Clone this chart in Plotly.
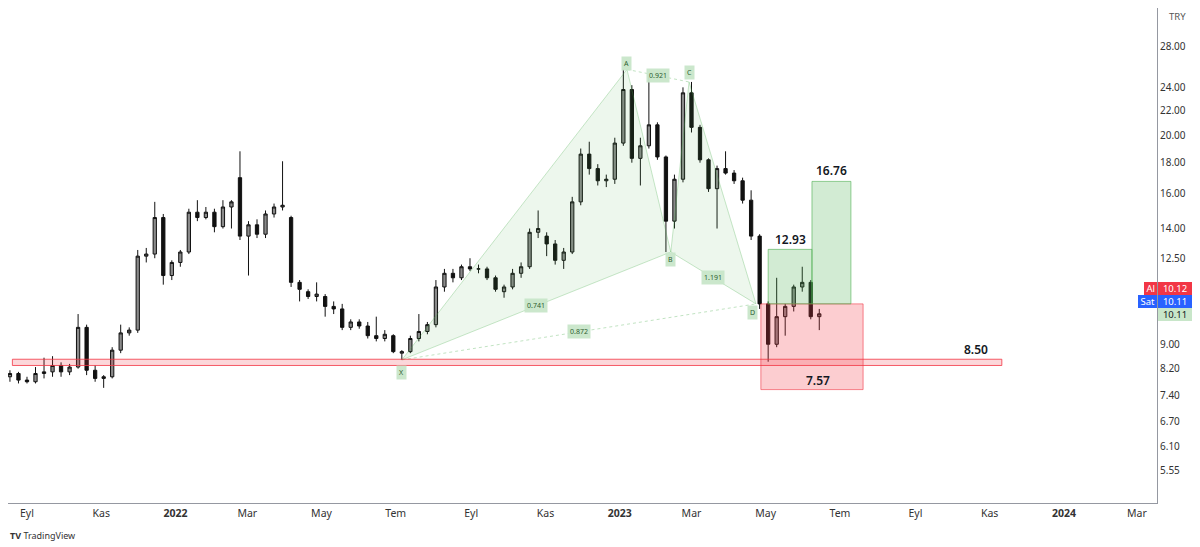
import numpy as np
import pandas as pd
import plotly.graph_objects as go

# weekly candles (TRY)
first_week = "2021-08-18"
opens = [7.95, 8.05, 7.85, 7.80, 8.05, 8.10, 8.30, 8.10, 8.25, 9.60,
         8.15, 7.90, 7.95, 8.80, 9.40, 9.50, 12.6, 12.7, 14.6, 11.7,
         12.3, 12.8, 14.9, 14.6, 14.9, 14.1, 15.2, 17.0, 13.6, 14.2,
         13.7, 14.8, 15.2, 14.6, 11.4, 11.0, 10.8, 10.8, 10.4, 10.3,
         9.60, 9.80, 9.65, 9.30, 9.20, 9.30, 8.70, 8.75, 9.20, 9.45,
         9.70, 11.2, 11.8, 11.6, 12.1, 12.0, 12.0, 11.6, 11.0, 11.2,
         11.8, 12.1, 13.8, 13.6, 13.2, 12.4, 12.8, 15.5, 18.6, 17.6,
         16.8, 16.9, 19.4, 23.8, 18.3, 19.2, 20.8, 18.4, 14.4, 16.9,
         23.5, 20.6, 18.2, 16.3, 17.6, 17.3, 16.8, 15.6, 13.6, 10.5,
         9.00, 10.0, 10.4, 11.2, 11.4, 10.0]
highs = [8.15, 8.10, 7.95, 8.25, 8.55, 8.60, 8.40, 8.35, 10.1, 9.70,
         8.30, 8.00, 8.90, 9.70, 9.60, 12.9, 13.0, 15.5, 14.8, 12.4,
         12.9, 15.1, 15.6, 15.2, 15.1, 15.6, 15.6, 18.8, 14.4, 14.5,
         15.0, 15.4, 18.1, 14.7, 11.5, 11.1, 11.4, 10.9, 10.6, 10.5,
         9.90, 9.90, 9.80, 10.0, 9.50, 9.35, 8.80, 9.30, 10.1, 9.80,
         11.5, 12.0, 12.0, 12.2, 12.5, 12.2, 12.1, 11.7, 11.3, 12.0,
         12.3, 14.0, 15.0, 13.8, 13.4, 13.0, 15.8, 19.0, 19.5, 17.9,
         17.2, 19.8, 25.7, 24.2, 19.8, 25.0, 21.0, 18.5, 17.2, 24.0,
         24.5, 20.8, 18.3, 17.8, 18.8, 17.5, 17.0, 16.2, 13.7, 10.6,
         11.6, 10.5, 11.3, 12.1, 11.5, 10.3]
lows = [7.80, 7.75, 7.75, 7.75, 7.90, 7.95, 7.95, 8.00, 8.20, 8.00,
        7.80, 7.62, 7.90, 8.70, 9.30, 9.40, 12.3, 12.5, 11.3, 11.5,
        12.1, 12.7, 14.4, 14.5, 13.8, 14.0, 14.0, 13.4, 11.7, 13.5,
        13.5, 14.6, 15.0, 11.2, 10.6, 10.7, 10.6, 10.0, 10.1, 9.50,
        9.50, 9.55, 9.20, 9.10, 9.10, 8.70, 8.48, 8.70, 9.10, 9.35,
        9.60, 11.0, 11.4, 11.5, 11.9, 11.8, 11.5, 11.0, 10.75, 11.1,
        11.6, 12.0, 13.5, 12.6, 12.2, 12.0, 12.7, 15.3, 17.2, 16.5,
        16.4, 16.6, 19.2, 18.0, 16.5, 19.0, 18.2, 12.8, 14.0, 16.7,
        20.2, 18.0, 16.1, 14.0, 17.2, 16.6, 15.4, 13.4, 10.3, 8.42,
        8.90, 9.30, 10.2, 11.0, 9.90, 9.50]
closes = [8.05, 7.85, 7.80, 8.05, 8.10, 8.30, 8.10, 8.25, 9.60, 8.15,
          7.90, 7.95, 8.80, 9.40, 9.50, 12.6, 12.7, 14.6, 11.7, 12.3,
          12.8, 14.9, 14.6, 14.9, 14.1, 15.2, 15.5, 13.6, 14.2, 13.7,
          14.8, 15.2, 15.3, 11.4, 11.1, 10.8, 10.9, 10.4, 10.3, 9.60,
          9.80, 9.65, 9.30, 9.20, 9.35, 8.75, 8.75, 9.20, 9.45, 9.70,
          11.2, 11.8, 11.6, 12.1, 12.0, 12.0, 11.6, 11.1, 11.2, 11.8,
          12.1, 13.8, 14.0, 13.2, 12.4, 12.8, 15.5, 18.6, 17.6, 16.8,
          16.9, 19.4, 23.8, 18.3, 19.2, 20.8, 18.4, 14.4, 16.9, 23.5,
          20.6, 18.2, 16.3, 17.6, 17.3, 16.8, 15.6, 13.6, 10.5, 9.00,
          10.0, 10.4, 11.2, 11.4, 10.0, 10.11]

# harmonic pattern
pattern_names = ["X", "A", "B", "C", "D"]
pattern_dates = ["2022-07-06", "2023-01-07", "2023-02-12", "2023-02-27", "2023-04-23"]
pattern_prices = [8.48, 25.7, 12.8, 24.5, 10.5]
ratio_pairs = [("X", "B"), ("X", "D"), ("A", "C"), ("B", "D")]
ratio_labels = ["0.741", "0.872", "0.921", "1.191"]

# position tool
entry_price = 10.5
target1, target2, stop = 12.93, 16.76, 7.57
stop_dates = ["2023-04-27", "2023-07-20"]
target1_dates = ["2023-05-03", "2023-06-08"]
target2_dates = ["2023-06-08", "2023-07-10"]

# support zone
zone_dates = ["2021-08-20", "2023-11-11"]
zone_low, zone_high = 8.30, 8.50
zone_label_date = "2023-10-21"

last_price, ask_price, bid_price = 10.11, 10.12, 10.11

y_ticks = [5.55, 6.10, 6.70, 7.40, 8.20, 9.00, 12.50, 14.00, 16.00, 18.00, 20.00, 22.00, 24.00, 28.00]
x_ticks = ["2021-09-01", "2021-11-01", "2022-01-01", "2022-03-01", "2022-05-01", "2022-07-01",
           "2022-09-01", "2022-11-01", "2023-01-01", "2023-03-01", "2023-05-01", "2023-07-01",
           "2023-09-01", "2023-11-01", "2024-01-01", "2024-03-01"]
x_labels = ["Eyl", "Kas", "<b>2022</b>", "Mar", "May", "Tem", "Eyl", "Kas", "<b>2023</b>", "Mar",
            "May", "Tem", "Eyl", "Kas", "<b>2024</b>", "Mar"]

FONT = "Noto Sans"
RED = "#f23645"
BLUE = "#2962ff"

dates = pd.date_range(first_week, periods=len(closes), freq="7D")
pts = {n: (pd.Timestamp(d), p) for n, d, p in zip(pattern_names, pattern_dates, pattern_prices)}

fig = go.Figure()


def rect(d0, d1, p0, p1, fill, line):
    fig.add_trace(go.Scatter(
        x=[d0, d1, d1, d0, d0], y=[p0, p0, p1, p1, p0], mode="lines", fill="toself",
        fillcolor=fill, line=dict(color=line, width=1), hoverinfo="skip", showlegend=False))


# pattern triangles
for tri in (["X", "A", "B", "X"], ["B", "C", "D", "B"]):
    fig.add_trace(go.Scatter(
        x=[pts[n][0] for n in tri], y=[pts[n][1] for n in tri], mode="lines", fill="toself",
        fillcolor="rgba(76, 175, 80, 0.10)", line=dict(color="rgba(76, 175, 80, 0.30)", width=1),
        hoverinfo="skip", showlegend=False))
for a, b in [("A", "C"), ("X", "D")]:
    fig.add_trace(go.Scatter(
        x=[pts[a][0], pts[b][0]], y=[pts[a][1], pts[b][1]], mode="lines",
        line=dict(color="rgba(76, 175, 80, 0.35)", width=1, dash="dot"),
        hoverinfo="skip", showlegend=False))

# zones
rect(zone_dates[0], zone_dates[1], zone_low, zone_high, "rgba(242, 54, 69, 0.20)", "rgba(242, 54, 69, 0.8)")
rect(stop_dates[0], stop_dates[1], stop, entry_price, "rgba(242, 54, 69, 0.25)", "rgba(242, 54, 69, 0.6)")
rect(target1_dates[0], target1_dates[1], entry_price, target1, "rgba(76, 175, 80, 0.25)", "rgba(76, 175, 80, 0.6)")
rect(target2_dates[0], target2_dates[1], entry_price, target2, "rgba(76, 175, 80, 0.25)", "rgba(76, 175, 80, 0.6)")

fig.add_trace(go.Candlestick(
    x=dates, open=opens, high=highs, low=lows, close=closes,
    increasing=dict(line=dict(color="#111111", width=1), fillcolor="#8a8a8a"),
    decreasing=dict(line=dict(color="#111111", width=1), fillcolor="#111111"),
    whiskerwidth=0, showlegend=False, hoverinfo="skip"))

annotations = []
lbl_box = dict(bgcolor="rgba(200, 230, 201, 0.95)", borderpad=2, font=dict(family=FONT, size=7, color="#2e5e30"))
offsets = {"X": (0, -13), "A": (0, 6), "B": (0, -7), "C": (0, 9), "D": (-3, -9)}
for n in pattern_names:
    d, p = pts[n]
    annotations.append(dict(x=d, y=np.log10(p), text=n, showarrow=False,
                            xshift=offsets[n][0], yshift=offsets[n][1], **lbl_box))
for (a, b), t in zip(ratio_pairs, ratio_labels):
    (da, pa), (db, pb) = pts[a], pts[b]
    annotations.append(dict(x=da + (db - da) / 2, y=(np.log10(pa) + np.log10(pb)) / 2, text=t,
                            showarrow=False, **lbl_box))

big = dict(family=FONT, size=12, color="#131722", weight=600)
mid = lambda d: pd.Timestamp(d[0]) + (pd.Timestamp(d[1]) - pd.Timestamp(d[0])) / 2
annotations += [
    dict(x=mid(target1_dates), y=np.log10(target1), text="12.93", showarrow=False, yshift=10, font=big),
    dict(x=mid(target2_dates), y=np.log10(target2), text="16.76", showarrow=False, yshift=11, font=big),
    dict(x=mid(stop_dates) + pd.Timedelta(days=5), y=np.log10(stop), text="7.57", showarrow=False, yshift=9, font=big),
    dict(x=zone_label_date, y=np.log10(zone_high), text="8.50", showarrow=False, yshift=10, font=big),
]

# right side price tags
tag = dict(xref="paper", x=1, showarrow=False, borderpad=0, borderwidth=0)
wf = dict(family=FONT, size=9.5, color="white")
annotations += [
    dict(y=np.log10(last_price), yshift=25, xanchor="right", text=" Al ", bgcolor=RED, font=wf, **tag),
    dict(y=np.log10(last_price), yshift=25, xanchor="left", xshift=1, text="  %.2f   " % ask_price,
         bgcolor=RED, font=wf, **tag),
    dict(y=np.log10(last_price), yshift=12, xanchor="right", text=" Sat ", bgcolor=BLUE, font=wf, **tag),
    dict(y=np.log10(last_price), yshift=12, xanchor="left", xshift=1, text="  %.2f   " % bid_price,
         bgcolor=BLUE, font=wf, **tag),
    dict(y=np.log10(last_price), yshift=-1, xanchor="left", xshift=1, text="  %.2f   " % last_price,
         bgcolor="#c8e6c9", font=dict(family=FONT, size=9.5, color="#131722"), **tag),
    dict(x=1, y=1, xref="paper", yref="paper", xanchor="left", yanchor="top", xshift=10, yshift=0,
         text="TRY", showarrow=False, font=dict(family=FONT, size=9.5, color="#555555")),
    dict(x=0, y=0, xref="paper", yref="paper", xanchor="left", yanchor="middle", xshift=0, yshift=-32,
         text="<b>TV</b> TradingView", showarrow=False, font=dict(family=FONT, size=9, color="#333333")),
]

# page body adds an 8px offset, so the figure is sized to fit inside it
fig.update_layout(
    width=1192, height=539,
    margin=dict(l=0, r=43, t=0, b=44),
    plot_bgcolor="white", paper_bgcolor="white",
    boxgap=0.45,
    annotations=annotations,
    xaxis=dict(
        type="date", range=["2021-08-16 09:36", "2024-03-17 12:00"],
        rangeslider=dict(visible=False),
        tickvals=x_ticks, ticktext=x_labels, showgrid=False, zeroline=False,
        showline=True, linecolor="#9598a1", linewidth=1,
        tickfont=dict(family=FONT, size=10.5, color="#333333"),
    ),
    yaxis=dict(
        type="log", side="right", range=[np.log10(4.91), np.log10(32.49)],
        tickvals=y_ticks, ticktext=[f"{v:.2f}" for v in y_ticks], showgrid=False, zeroline=False,
        showline=True, linecolor="#9598a1", linewidth=1,
        tickfont=dict(family=FONT, size=10, color="#333333"),
    ),
)

fig.write_html("out.html")
